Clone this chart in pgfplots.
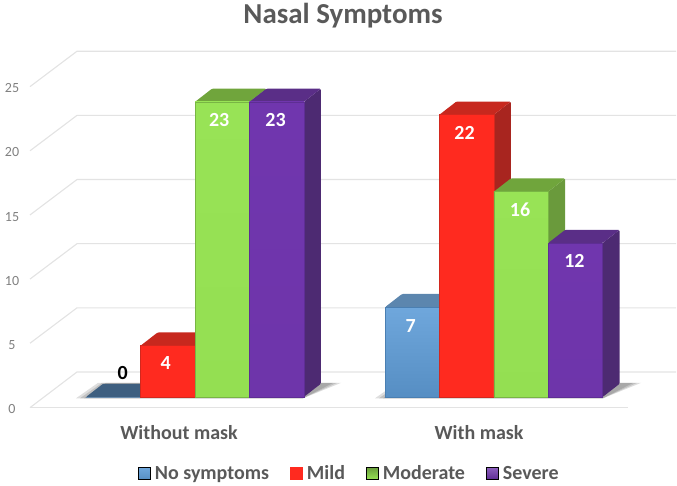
\documentclass[border=0pt]{standalone}
\usepackage{pgfplots}
\pgfplotsset{compat=1.18}
\usepackage{fontspec}
\setmainfont{Carlito}
\definecolor{txt}{HTML}{595959}
\definecolor{ticktxt}{HTML}{808080}
\definecolor{gridc}{HTML}{E3E3E3}
\definecolor{blueA}{HTML}{6FA7DC}\definecolor{blueB}{HTML}{568EC3}\definecolor{blueE}{HTML}{4A7FB2}\definecolor{blueS}{HTML}{456F97}\definecolor{blueT}{HTML}{5C86AE}\definecolor{blueZ}{HTML}{3E5F80}
\definecolor{redA}{HTML}{FF2A1F}\definecolor{redB}{HTML}{FF2A1F}\definecolor{redE}{HTML}{D2281E}\definecolor{redS}{HTML}{A8251F}\definecolor{redT}{HTML}{C7281E}
\definecolor{grnA}{HTML}{98E356}\definecolor{grnB}{HTML}{94DF52}\definecolor{grnE}{HTML}{78B544}\definecolor{grnS}{HTML}{6A9A3C}\definecolor{grnT}{HTML}{70A53C}
\definecolor{purA}{HTML}{7036AE}\definecolor{purB}{HTML}{6E35AA}\definecolor{purE}{HTML}{5E2E94}\definecolor{purS}{HTML}{4D2A72}\definecolor{purT}{HTML}{5A2E87}
% #1 left edge, #2 value, #3 family, #4 top colour, #5 label colour, #6 label x shift, #7 label y shift (px)
\newcommand{\threeDbar}[7]{%
  \pgfmathsetmacro\xa{#1}\pgfmathsetmacro\xb{#1+54.4}%
  \pgfmathsetmacro\xc{#1+17}\pgfmathsetmacro\xd{#1+54.4+17}%
  \pgfmathsetmacro\xm{#1+27.2}\pgfmathsetmacro\yt{#2+1.03}%
  \addplot[forget plot,draw=none,fill=#3S,rounded corners=0.8pt] coordinates {(\xb,0)(\xd,1.03)(\xd,\yt)(\xb,#2)} --cycle;
  \addplot[forget plot,draw=none,fill=#4,rounded corners=0.8pt] coordinates {(\xa,#2)(\xc,\yt)(\xd,\yt)(\xb,#2)} --cycle;
  \addplot[forget plot,ybar,bar shift=0pt,bar width=54.4,draw=#3E,line width=0.4pt,top color=#3A,bottom color=#3B,
    nodes near coords={\fontsize{15}{17}\selectfont\bfseries #2},
    every node near coord/.append style={anchor=center,text=#5,inner sep=0pt,xshift=#6*0.75pt,yshift=#7*0.75pt}]
    coordinates {(\xm,#2)};
}
\newcommand{\shadowlayer}[3]{%
  \addplot[forget plot,draw=none,fill=black,fill opacity=0.13] coordinates {(#1-#3,-0.1)(#1-#3+22,1.1)(#2+28+#3,1.1)(#2,-0.1)} --cycle;
}
\newcommand{\gridl}[3]{\addplot[forget plot,draw=gridc,line width=0.85pt] coordinates {(30,#1)(77,#2)(#3,#2)};}
\begin{document}
\begin{tikzpicture}
\useasboundingbox (0,0) rectangle (507.75pt,363.75pt);
\begin{axis}[
  at={(0,0)},anchor=south west,
  scale only axis,width=507.75pt,height=363.75pt,
  xmin=0,xmax=677,ymin=-6.859,ymax=30.943,
  axis line style={draw=none},
  major tick length=0pt,
  xtick={179,479},xticklabels={Without mask,With mask},
  ytick={0,5,10,15,20,25},
  /pgf/number format/assume math mode=true,
  x tick label style={anchor=center,font=\fontsize{15}{17}\selectfont\bfseries,text=txt,yshift=52*0.75pt},
  y tick label style={anchor=center,font=\fontsize{10.5}{12}\selectfont,text=ticktxt,xshift=12*0.75pt,yshift=-12*0.75pt},
  legend columns=4,
  legend style={at={(rel axis cs:0.5177,0.0235)},anchor=center,draw=none,fill=none,inner sep=0pt,
    font=\fontsize{15}{17}\selectfont\bfseries,text=txt,
    nodes={inner xsep=3.4pt},
    /tikz/every even column/.append style={column sep=12.2pt}},
  legend cell align=left,
]
\gridl{24.19}{26.95}{676}
\gridl{19.19}{21.95}{676}
\gridl{14.19}{16.95}{676}
\gridl{9.19}{11.95}{676}
\gridl{4.19}{6.95}{676}
\gridl{-0.83}{1.95}{676}
\addplot[forget plot,draw=gridc,line width=1pt] coordinates {(30,-0.83)(628,-0.83)};
% soft shadows on the floor
\shadowlayer{86}{303}{10}\shadowlayer{86}{303}{6}\shadowlayer{86}{303}{2}
\shadowlayer{385}{603}{10}\shadowlayer{385}{603}{6}\shadowlayer{385}{603}{2}
% Without mask
\threeDbar{86}{0}{blue}{blueZ}{black}{9.5}{24}
\threeDbar{140.6}{4}{red}{redT}{white}{-2}{-17.5}
\threeDbar{195}{23}{grn}{grnT}{white}{-3}{-18}
\threeDbar{249.4}{23}{pur}{purT}{white}{-1}{-18}
% With mask
\threeDbar{385}{7}{blue}{blueT}{white}{-1.5}{-18.5}
\threeDbar{439.4}{22}{red}{redT}{white}{-2}{-18}
\threeDbar{493.8}{16}{grn}{grnT}{white}{-1}{-18}
\threeDbar{548.2}{12}{pur}{purT}{white}{-1}{-18}
% legend
\addlegendimage{legend image code/.code={\shade[top color=blueA,bottom color=blueB] (0pt,-4.5pt) rectangle (9pt,4.5pt);}}
\addlegendentry{No symptoms}
\addlegendimage{legend image code/.code={\fill[redA] (0pt,-4.5pt) rectangle (9pt,4.5pt);}}
\addlegendentry{Mild}
\addlegendimage{legend image code/.code={\shade[top color=grnA!70!black,bottom color=grnA] (0pt,-4.5pt) rectangle (9pt,4.5pt);}}
\addlegendentry{Moderate}
\addlegendimage{legend image code/.code={\shade[top color=purA!80!white,bottom color=purE] (0pt,-4.5pt) rectangle (9pt,4.5pt);}}
\addlegendentry{Severe}
\node[anchor=center,font=\fontsize{21.7}{24}\selectfont\bfseries,text=txt] at (axis cs:343,29.7) {Nasal Symptoms};
\end{axis}
\end{tikzpicture}
\end{document}
